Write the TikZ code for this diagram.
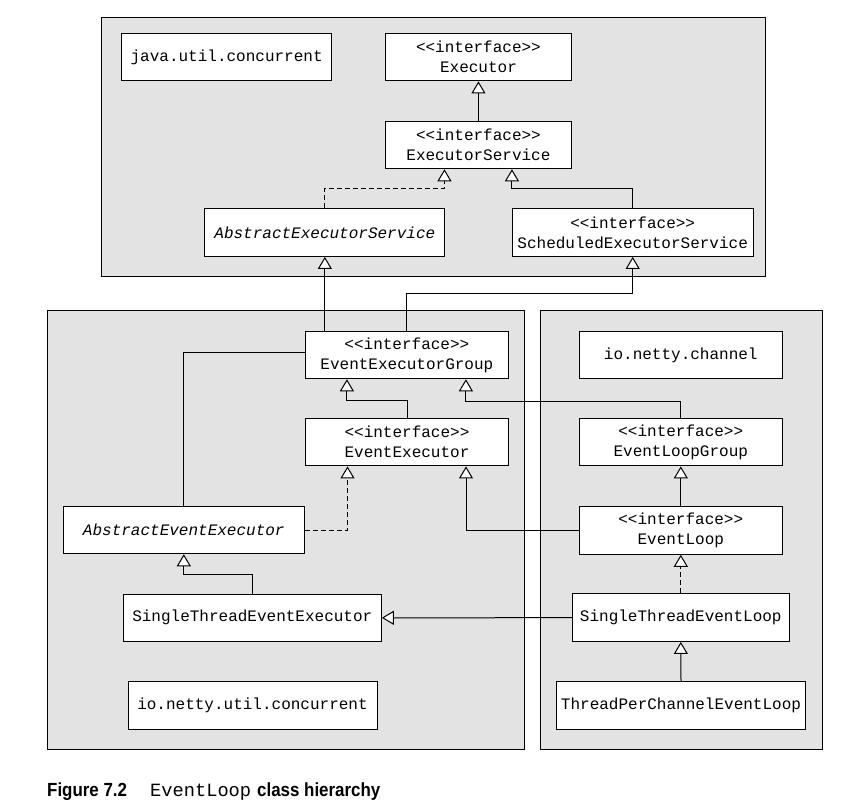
\documentclass[tikz,border=0pt]{standalone}
\usepackage{fontspec}
\usetikzlibrary{arrows.meta}
\newfontfamily\boxfont[Ligatures=TeXOff]{Liberation Mono}
\newfontfamily\capfont[FakeStretch=0.89]{Liberation Sans}
\definecolor{panelgray}{RGB}{227,227,227}

\begin{document}
\begin{tikzpicture}[x=1pt, y=-1pt,
  panel/.style={draw=black, fill=panelgray, line width=1pt},
  cls/.style={draw=black, fill=white, line width=1pt, inner sep=0pt,
    minimum height=47.5pt, align=center,
    font=\boxfont\fontsize{16}{20}\selectfont},
  inh/.style={draw=black, line width=1pt,
    -{Triangle[length=12pt, width=14pt, fill=white]}},
  impl/.style={inh, dash pattern=on 5pt off 3pt},
  assoc/.style={draw=black, line width=1pt},
  caption/.style={anchor=base west, inner sep=0pt}]

\useasboundingbox (0,0) rectangle (864,803);

% package panels
\draw[panel] (101,17.7) rectangle (765.4,276.7);
\draw[panel] (47.3,310.5) rectangle (524.5,749.3);
\draw[panel] (540.5,310.5) rectangle (822.3,749.3);

% java.util.concurrent
\node[cls, minimum width=210.5pt] (juc) at (226.65,57.15) {java.util.concurrent};
\node[cls, minimum width=185.3pt] (exec) at (478.45,57.15) {<<interface>>\\Executor};
\node[cls, minimum width=185.3pt] (es) at (478.45,145) {<<interface>>\\ExecutorService};
\node[cls, minimum width=240.1pt] (aes) at (324.85,232.65) {\itshape AbstractExecutorService};
\node[cls, minimum width=241.4pt] (ses) at (632.7,232.65) {<<interface>>\\ScheduledExecutorService};

% io.netty.util.concurrent
\node[cls, minimum width=203.2pt] (eeg) at (406.9,355) {<<interface>>\\EventExecutorGroup};
\node[cls, minimum width=202.6pt] (ee) at (407,442.15) {<<interface>>\\EventExecutor};
\node[cls, minimum width=241pt] (aee) at (183.8,530) {\itshape AbstractEventExecutor};
\node[cls, minimum width=258pt] (stee) at (252.3,617.8) {SingleThreadEventExecutor};
\node[cls, minimum width=249pt] (inuc) at (252.5,705.5) {io.netty.util.concurrent};

% io.netty.channel
\node[cls, minimum width=203pt] (inc) at (680.8,355) {io.netty.channel};
\node[cls, minimum width=203pt] (elg) at (680.8,442.15) {<<interface>>\\EventLoopGroup};
\node[cls, minimum width=203pt] (el) at (680.8,530.5) {<<interface>>\\EventLoop};
\node[cls, minimum width=217pt] (stel) at (680.8,617.7) {SingleThreadEventLoop};
\node[cls, minimum width=248.6pt] (tpc) at (681,705.5) {ThreadPerChannelEventLoop};

% java.util.concurrent relations
\draw[inh] (es.north) -- (exec.south);
\draw[impl] (aes.north) -- ++(0,-20.3) -| ([xshift=-34pt]es.south);
\draw[inh] (ses.north) -- ++(0,-20.3) -| ([xshift=33.5pt]es.south);

% netty executors
\draw[inh] (eeg.north -| aes.south) -- (aes.south);
\draw[inh] (eeg.north) -- ++(0,-37.4) -| (ses.south);
\draw[inh] (ee.north) -- ++(0,-17) -| ([xshift=-60pt]eeg.south);
\draw[inh] (elg.north) -- ++(0,-16.6) -| ([xshift=59pt]eeg.south);
\draw[assoc] (aee.north) |- ([yshift=3pt]eeg.west);
\draw[impl] (aee.east) -| ([xshift=-59.5pt]ee.south);
\draw[inh] (el.west) -| ([xshift=59pt]ee.south);
\draw[inh] (stee.north) -- ++(0,-18.6) -| (aee.south);

% netty event loops
\draw[inh] (el.north) -- (elg.south);
\draw[impl] (stel.north) -- (el.south);
\draw[inh] (tpc.north) -- (stel.south);
\draw[inh] (stel.west) -- (stee.east);

% caption
\node[caption, font=\capfont\bfseries\fontsize{19}{22}\selectfont] (fignum) at (47,796) {Figure 7.2};
\node[caption, font=\boxfont\fontsize{18.7}{22}\selectfont] (figcode) at (150,796) {EventLoop};
\node[caption, font=\capfont\bfseries\fontsize{19}{22}\selectfont] (figtext) at (257,796) {class hierarchy};
\end{tikzpicture}
\end{document}
